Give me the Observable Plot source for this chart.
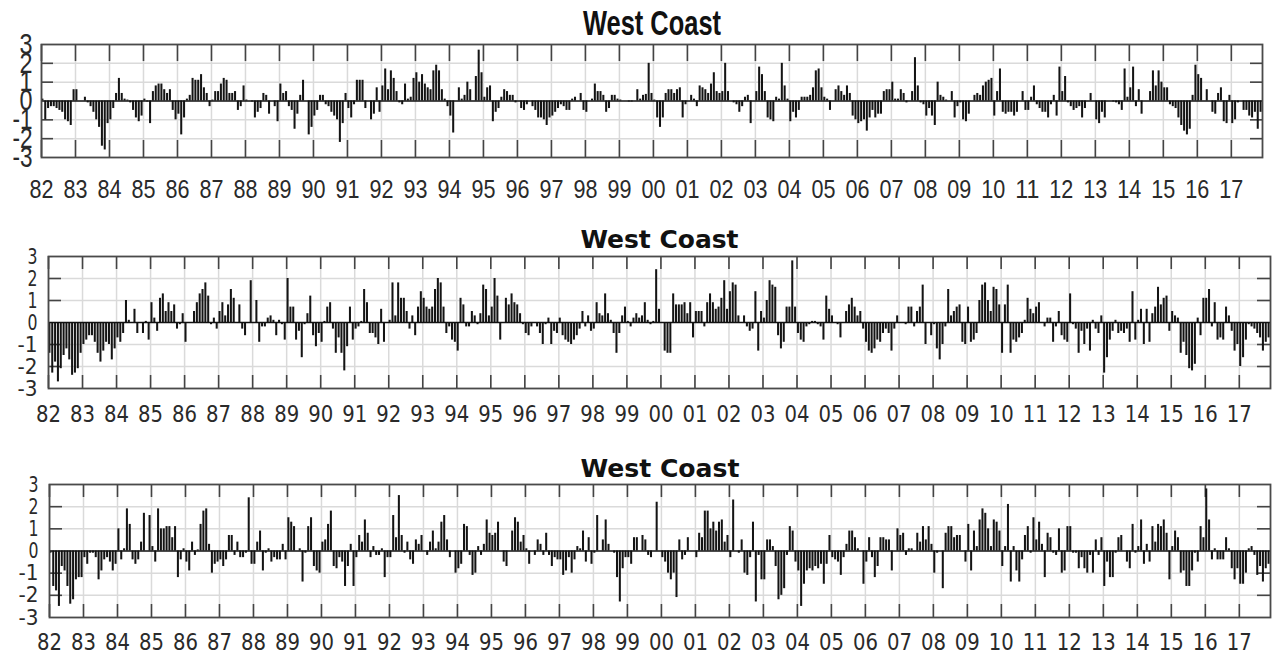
<!DOCTYPE html>
<html>
<head>
<meta charset="utf-8">
<script src="https://cdn.jsdelivr.net/npm/d3@7"></script>
<script src="https://cdn.jsdelivr.net/npm/@observablehq/plot@0.6"></script>
<style>
  html, body { margin: 0; padding: 0; background: #fff; }
  #wrap { position: relative; width: 1275px; height: 657px; overflow: hidden; background: #fff; }
  #wrap svg { position: absolute; left: 0; }
</style>
</head>
<body>
<div id="wrap"></div>
<script>
// ---------------- data ----------------
const startYear = 1982;
const yearLabels = ["82","83","84","85","86","87","88","89","90","91","92","93","94","95","96","97","98","99",
  "00","01","02","03","04","05","06","07","08","09","10","11","12","13","14","15","16","17"];
const yTickValues = [-3, -2, -1, 0, 1, 2, 3];
const yTickLabels = ["-3", "-2", "-1", "0", "1", "2", "3"];
const panelTitles = ["West Coast", "West Coast", "West Coast"];

// monthly values, Jan 1982 .. Nov 2017 (one row per year)
const westCoastTop = [
  0.1,-1.0,-0.4,-0.3,-0.3,-0.4,-0.5,-0.6,-1.0,-1.1,-1.3,0.6,
  0.6,0.0,0.0,0.2,-0.1,-0.3,-0.6,-1.0,-1.4,-2.4,-2.6,-1.2,
  -1.0,-0.4,0.4,1.2,0.4,0.1,0.05,-0.1,-0.5,-0.9,-1.1,-0.8,
  0.1,-0.05,-1.2,0.5,0.8,0.9,0.9,0.6,0.4,0.6,-0.5,-1.0,
  -0.7,-1.8,-0.9,0.1,0.3,1.2,1.1,1.1,1.4,0.7,0.4,-0.3,
  0.05,0.5,0.5,0.9,1.2,1.1,0.4,0.4,0.5,-0.5,-0.3,0.8,
  0.05,0.0,-0.05,-0.9,-0.6,-0.4,0.4,0.3,-0.7,0.0,-0.3,-1.1,
  0.9,0.4,0.5,-0.3,-0.5,-1.5,-0.7,0.3,1.1,0.0,-1.8,-1.4,
  -0.8,-0.5,0.3,0.3,-0.2,-0.3,-0.6,-0.8,-1.0,-2.2,-1.2,0.4,
  -0.4,-0.9,-0.2,1.1,1.1,1.1,-0.4,0.0,-1.0,-0.7,0.7,-0.6,
  0.8,1.7,0.6,1.6,1.2,0.5,-0.1,-0.2,0.9,0.1,0.2,1.2,
  1.5,1.0,1.4,0.9,0.7,0.6,1.6,1.9,1.6,0.6,0.1,-0.3,
  -0.8,-1.7,0.0,0.7,0.1,0.3,1.0,0.6,0.0,1.3,2.7,1.5,
  0.2,0.7,0.8,-1.1,-0.6,-0.4,0.2,0.6,0.5,0.3,0.3,-0.1,
  0.0,-0.4,-0.5,-0.2,0.0,-0.3,-0.5,-0.9,-0.9,-1.0,-1.3,-0.9,
  -0.8,-0.6,-0.4,-0.2,-0.3,-0.5,-0.5,0.1,0.2,0.0,0.4,-0.5,
  -0.6,0.0,0.1,0.9,0.5,0.5,0.3,-0.6,-0.4,0.3,0.3,0.1,
  0.05,0.0,0.0,-0.05,-0.05,0.0,0.6,0.1,0.3,0.35,2.0,0.4,
  0.05,-0.9,-1.4,-0.9,0.4,0.6,0.6,0.4,0.6,0.7,-0.9,-0.2,
  0.0,0.3,0.1,-0.3,0.8,0.7,0.6,0.4,0.9,1.5,0.5,0.4,
  0.5,2.0,0.5,0.0,-0.1,-0.2,-0.6,-0.3,0.2,0.3,-1.2,0.0,
  0.5,1.8,1.4,0.5,-0.9,-1.0,-1.1,0.2,0.1,2.0,0.8,0.1,
  -1.1,-0.6,-0.9,-0.5,0.2,0.2,0.2,0.3,0.7,1.6,1.7,0.7,
  0.2,0.1,-0.5,0.0,0.6,0.8,0.5,0.3,0.8,0.4,-0.8,-1.0,
  -1.2,-1.1,-1.0,-1.6,-0.9,-0.5,-0.9,-0.7,-0.7,0.5,0.6,0.6,
  1.0,0.1,0.1,0.6,0.4,-0.1,0.0,0.5,2.3,0.8,-0.1,-0.2,
  -0.8,-0.4,-0.8,-1.3,1.0,0.3,0.2,0.05,0.0,0.5,-0.9,-0.3,
  -0.1,-1.0,-1.1,-0.7,0.0,0.3,0.4,0.3,0.8,1.0,1.1,1.2,
  -0.8,0.5,1.7,-0.6,-0.7,-0.6,-0.6,-0.8,-0.6,0.0,0.5,-0.5,
  -0.5,0.2,0.8,-0.2,-0.4,-0.6,-0.6,-0.9,-0.2,0.3,-0.8,1.8,
  0.5,1.3,-0.1,-0.3,-0.5,-0.4,-0.3,-0.9,-0.4,0.0,0.4,0.0,
  -1.0,-1.2,-0.6,-0.9,0.0,0.0,-0.05,-0.1,-0.2,-0.5,1.7,0.2,
  0.7,1.8,-0.3,0.6,-0.7,0.0,0.0,0.5,1.6,0.8,1.6,1.0,
  0.7,0.7,-0.2,-0.3,-0.4,-0.9,-1.3,-1.6,-1.8,-1.5,0.3,1.9,
  1.4,1.2,0.0,0.6,0.0,-0.6,-0.7,0.4,0.7,-1.1,-1.2,0.3,
  -1.2,-1.0,-0.1,0.0,-0.5,-0.5,-0.8,-0.9,-0.6,-1.5,-0.6
];

const westCoastMiddle = [
  -1.4,-2.3,-1.8,-2.7,-2.1,-1.5,-1.2,-1.7,-2.4,-2.3,-2.1,-1.4,
  -1.0,-0.8,-0.6,-0.6,-0.9,-1.4,-1.8,-1.3,-0.9,-1.0,-1.7,-1.2,
  -0.7,-0.9,-0.5,1.0,0.1,0.0,0.6,-0.5,0.0,-0.5,0.05,-0.8,
  0.9,0.2,-0.4,1.1,1.3,0.5,0.9,0.5,0.8,-0.3,-0.1,0.4,
  -0.9,0.0,0.0,0.5,0.9,1.3,1.5,1.8,1.2,-0.1,0.2,-0.3,
  0.5,0.9,0.3,0.8,1.5,1.1,0.0,0.8,-0.3,-0.6,0.0,1.9,
  0.0,1.0,-0.9,-0.2,-0.2,0.2,0.3,0.1,-0.6,0.1,-0.1,-0.8,
  2.0,0.7,0.7,-0.8,-0.4,-1.6,-0.1,0.4,1.2,-0.6,-1.1,-0.5,
  -0.9,0.05,0.7,0.9,-0.3,-1.4,-0.7,-1.4,-2.2,-1.1,0.7,-0.8,
  -0.3,-0.2,0.05,1.5,0.9,-0.5,-0.5,-0.7,-1.0,0.6,-0.9,0.0,
  0.1,1.8,0.3,1.8,1.1,1.1,0.5,-0.3,0.3,-0.6,0.7,1.4,
  1.1,0.7,0.6,0.7,1.5,2.0,1.8,0.7,-0.5,-0.2,-0.8,-0.9,
  -1.3,1.1,0.8,-0.2,-0.2,0.5,0.3,-0.1,0.4,1.7,1.5,0.3,
  0.7,2.0,1.2,-0.8,0.0,1.1,0.8,1.3,0.9,0.8,0.4,-0.1,
  -0.5,-0.6,-0.2,0.0,-0.2,-0.5,-1.0,-0.1,0.2,-1.0,-0.4,-0.5,
  0.2,-0.6,-0.8,-0.9,-1.0,-0.8,-0.6,-0.3,0.5,-0.2,0.3,-0.4,
  -0.3,0.9,0.4,0.3,1.3,0.4,0.1,-0.5,-1.4,-0.5,0.3,0.7,
  0.05,-0.2,0.2,0.4,0.2,0.3,0.9,0.1,-0.1,0.05,2.4,0.6,
  0.0,-1.3,-1.4,-1.4,1.3,0.8,0.8,0.8,0.9,0.4,0.9,-0.7,
  0.5,0.5,0.5,-0.2,0.9,1.3,0.9,0.6,0.7,1.1,1.9,0.6,
  1.4,1.8,1.7,0.3,0.0,0.3,-0.2,-0.4,-0.3,1.4,-1.3,0.5,
  0.2,1.0,1.9,1.7,1.6,-0.6,-1.2,-0.9,0.7,0.7,2.8,0.7,
  -0.5,-0.8,-0.9,-0.2,-0.1,0.05,0.05,-0.1,-0.2,-0.8,1.2,0.6,
  0.3,0.0,-0.1,-0.7,0.0,0.5,0.8,1.1,0.7,0.3,0.5,-0.3,
  -0.9,-1.3,-1.4,-1.2,-0.8,-0.9,-0.5,-0.3,-0.5,-1.3,-0.3,0.3,
  0.0,0.0,-0.1,0.7,0.7,-0.2,0.5,0.7,1.7,-1.0,0.0,-0.6,
  -0.1,-1.2,-1.7,-1.0,-0.2,1.5,0.3,0.5,0.7,0.8,-0.9,-1.0,
  0.7,-0.9,-0.8,-0.5,1.0,1.7,1.8,1.0,0.5,1.6,1.5,0.8,
  -1.4,0.8,1.7,-1.4,-0.8,-0.9,-0.7,-0.5,0.1,1.1,0.6,0.4,
  0.7,0.9,0.0,-0.2,0.2,0.2,-0.9,-0.2,0.5,-0.6,-0.8,-0.9,
  1.3,-0.1,-0.3,-1.4,-0.4,-1.0,-0.3,-1.3,0.1,-0.3,-0.5,0.3,
  -2.3,-1.6,-0.8,-0.4,0.1,-0.5,-0.4,-0.5,-0.3,-0.9,1.4,-0.8,
  0.1,0.6,-1.0,0.6,-0.9,0.4,0.7,1.6,0.8,1.1,1.2,-0.4,
  0.5,0.3,0.2,-1.4,-0.9,-1.5,-2.1,-2.2,-1.9,0.2,-0.6,1.1,
  1.1,1.5,-0.2,0.9,-0.8,-0.7,-0.8,0.7,0.3,-0.4,-1.3,-1.0,
  -2.0,-1.6,-0.8,-0.1,-0.2,-0.3,-0.5,-0.7,-1.3,-0.9,-0.7
];

const westCoastBottom = [
  -0.1,-1.6,-1.8,-2.5,-0.7,-0.9,-1.6,-2.4,-2.2,-1.3,-1.2,-1.2,
  -0.3,-0.6,-0.1,-0.1,-0.3,-1.3,-0.9,-0.4,-0.3,-0.5,-0.9,-0.6,
  1.0,-0.4,0.1,1.9,1.2,-0.4,-0.6,-0.4,0.4,1.7,0.0,1.6,
  0.2,-0.5,1.9,1.0,1.0,1.1,1.1,0.6,1.1,-1.2,-0.4,0.1,
  -0.5,-0.9,0.4,-0.2,0.05,1.2,1.8,1.9,0.3,-1.0,-0.6,-0.5,
  -0.4,-0.7,-0.4,0.7,0.7,-0.2,0.4,-0.3,-0.3,-0.1,2.4,-0.6,
  -0.6,0.4,0.9,-0.9,-0.1,0.1,-0.5,-0.3,-0.4,-0.4,0.3,-0.4,
  1.5,1.3,1.1,0.0,0.1,-1.4,-0.1,1.1,1.5,-0.7,-0.9,-1.0,
  0.4,0.5,1.2,1.8,-0.7,-0.8,-0.3,-0.5,-1.6,-0.7,0.3,-1.6,
  -0.3,0.7,0.4,1.4,0.8,-0.3,0.2,-0.2,-0.2,0.1,-1.2,-0.3,
  -0.3,1.6,0.6,2.5,0.7,-0.1,0.4,-0.4,-0.6,0.5,0.3,0.7,
  0.0,-0.2,0.4,0.9,0.1,0.4,1.3,1.6,0.5,-0.3,0.0,-1.0,
  -0.8,-0.6,1.2,1.1,-0.2,-1.1,-1.0,0.2,-0.2,0.3,1.4,0.8,
  0.7,0.8,1.3,0.0,-0.5,-0.7,0.0,0.9,1.5,1.3,0.4,0.7,
  0.1,-0.6,0.0,-0.2,0.5,0.3,-0.2,0.8,-0.2,-0.7,-0.3,-0.4,
  -0.4,-1.1,-0.9,-0.3,-1.0,-0.4,0.2,0.1,0.9,-0.5,0.6,-0.6,
  -0.1,1.6,0.0,0.5,1.4,0.3,0.0,-0.1,-1.2,-2.3,-0.8,-0.3,
  -0.3,-0.6,0.6,0.6,0.0,0.7,0.5,-0.2,-0.3,0.0,2.2,0.0,
  -0.3,-0.5,-1.0,-1.3,-1.0,-2.1,0.5,-0.4,-0.2,0.6,0.0,0.0,
  -0.3,0.8,0.6,1.8,1.8,1.0,1.3,0.9,1.3,1.4,0.4,0.7,
  -0.3,2.3,0.0,-0.1,0.5,-1.0,-1.1,-0.3,1.3,-2.3,-0.2,-1.3,
  -1.3,0.5,0.5,0.2,-0.7,-2.2,-2.0,-1.7,-0.2,1.1,0.9,-0.5,
  -0.9,-2.5,-1.5,-0.9,-0.8,-0.9,-0.7,-0.8,-0.6,-1.5,-0.6,0.7,
  -0.3,-0.4,-0.5,-1.1,-0.3,0.3,0.9,0.9,0.6,0.1,0.0,-1.5,
  -0.5,0.6,-0.3,-1.2,-0.7,0.6,0.6,0.5,0.5,-0.9,0.0,1.0,
  0.7,0.8,-0.2,0.1,0.1,0.0,0.8,0.4,1.1,0.5,1.1,0.3,
  -1.0,-0.1,0.0,-1.7,0.8,1.1,1.1,0.6,0.7,0.7,0.0,-0.5,
  1.2,-0.9,0.9,0.2,1.4,1.9,1.7,1.0,0.2,1.4,1.3,0.9,
  -0.7,0.2,2.1,-1.4,0.2,-0.9,-1.4,-0.4,0.7,1.1,-0.1,1.5,
  0.5,1.3,0.3,-1.2,0.8,0.6,-0.1,-0.2,1.0,-1.0,-0.9,1.1,
  1.1,-0.1,-0.1,-0.8,-0.3,-0.8,-1.0,-0.2,-1.0,0.5,-0.2,0.6,
  -1.6,-0.5,-1.2,-1.2,-0.1,0.6,0.7,0.0,-0.5,-0.8,1.2,-0.1,
  0.2,1.4,-0.6,0.3,-0.5,1.1,0.4,1.2,1.1,1.4,0.8,-1.3,
  0.2,0.9,0.6,-1.0,-0.9,-1.6,-1.6,-0.9,-0.1,-0.5,1.1,0.6,
  2.8,1.4,-0.4,0.1,-0.4,-0.4,-0.4,0.6,0.1,-0.8,-1.3,-0.8,
  -1.5,-1.5,-1.0,0.1,0.2,-0.2,-1.1,-0.7,-1.4,-0.8,-0.6
];

// ---------------- layout / style per panel ----------------
const narrow = '"Liberation Sans Narrow","Arial Narrow","Liberation Sans",Arial,sans-serif';
const dejavu = '"DejaVu Sans Condensed","DejaVu Sans",sans-serif';

const panels = [
  { values: westCoastTop, title: panelTitles[0], top: 0, height: 215,
    mt: 44, mb: 58, ml: 41, mr: 13, font: narrow,
    titleSize: 35, titleDy: -10, titleLen: 138,
    xSize: 25, xPad: 23, xLen: 24, ySize: 29, yPad: 9, yLen1: 13, yLen2: 20,
    tickLen: 17, yTickLen: 12 },
  { values: westCoastMiddle, title: panelTitles[1], top: 215, height: 222,
    mt: 41, mb: 49, ml: 48, mr: 5, font: dejavu,
    titleSize: 25, titleDy: -9, titleLen: 158,
    xSize: 23, xPad: 17, xLen: 25, ySize: 22, yPad: 11, yLen1: 10, yLen2: 20,
    tickLen: 13, yTickLen: 13 },
  { values: westCoastBottom, title: panelTitles[2], top: 437, height: 220,
    mt: 47, mb: 40, ml: 49, mr: 5, font: dejavu,
    titleSize: 25, titleDy: -8, titleLen: 159,
    xSize: 23, xPad: 16, xLen: 25, ySize: 22, yPad: 11, yLen1: 10, yLen2: 20,
    tickLen: 13, yTickLen: 13 }
];

const yearTicks = yearLabels.map((_, i) => startYear + i);
const innerYTicks = yTickValues.filter((v) => v !== 0 && Math.abs(v) !== 3);
const wrap = document.getElementById("wrap");

function squeezeGroup(g, widthFor) {
  if (!g) return;
  g.querySelectorAll("text").forEach((t) => {
    const w = widthFor(t.textContent);
    if (w) {
      t.setAttribute("textLength", w);
      t.setAttribute("lengthAdjust", "spacingAndGlyphs");
    }
  });
}

for (const p of panels) {
  const n = p.values.length;
  const data = p.values.map((v, i) => ({ t0: startYear + i / 12, t1: startYear + (i + 1) / 12, v }));
  const xDomain = [startYear, startYear + n / 12];
  const yDomain = [yTickValues[0], yTickValues[yTickValues.length - 1]];
  const innerH = p.height - p.mt - p.mb;
  const innerW = 1275 - p.ml - p.mr;
  const pxPerUnit = innerH / (yDomain[1] - yDomain[0]);
  const pxPerYear = innerW / (xDomain[1] - xDomain[0]);
  const tl = p.tickLen / pxPerUnit;
  const ytl = p.yTickLen / pxPerYear;

  const svg = Plot.plot({
    width: 1275,
    height: p.height,
    marginTop: p.mt, marginBottom: p.mb, marginLeft: p.ml, marginRight: p.mr,
    style: { background: "transparent", fontFamily: p.font, color: "#222", overflow: "visible" },
    x: { type: "linear", domain: xDomain, axis: null },
    y: { type: "linear", domain: yDomain, axis: null },
    marks: [
      // light grid
      Plot.ruleX(yearTicks, { x: (d) => d, stroke: "#dadada", strokeWidth: 1.5 }),
      Plot.ruleY(innerYTicks, { y: (d) => d, stroke: "#dadada", strokeWidth: 1.5 }),
      // inner year ticks top & bottom
      Plot.ruleX(yearTicks, { x: (d) => d, y1: yDomain[1], y2: yDomain[1] - tl, stroke: "#444", strokeWidth: 1.6 }),
      Plot.ruleX(yearTicks, { x: (d) => d, y1: yDomain[0], y2: yDomain[0] + tl, stroke: "#444", strokeWidth: 1.6 }),
      // inner y ticks left & right
      Plot.ruleY(innerYTicks, { y: (d) => d, x1: xDomain[0], x2: xDomain[0] + ytl, stroke: "#444", strokeWidth: 1.6 }),
      Plot.ruleY(innerYTicks, { y: (d) => d, x1: xDomain[1] - ytl, x2: xDomain[1], stroke: "#444", strokeWidth: 1.6 }),
      // bars
      Plot.rect(data, { x1: "t0", x2: "t1", y1: 0, y2: "v", fill: "#141414", insetLeft: 0.4, insetRight: 0.4 }),
      Plot.ruleY([0], { stroke: "#111", strokeWidth: 1.6 }),
      Plot.frame({ stroke: "#4a4a4a", strokeWidth: 1.8 }),
      // tick labels (text mark #0)
      Plot.text(yearTicks, {
        x: (d) => d, text: (d, i) => yearLabels[i], frameAnchor: "bottom", lineAnchor: "top",
        dy: p.xPad, fontSize: p.xSize, fill: "#2a2a2a", textAnchor: "middle"
      }),
      // text mark #1
      Plot.text(yTickValues, {
        y: (d) => d, text: (d, i) => yTickLabels[i], frameAnchor: "left", textAnchor: "end",
        dx: -p.yPad, fontSize: p.ySize, fill: "#2a2a2a"
      }),
      // title (text mark #2)
      Plot.text([p.title], {
        text: (d) => d, frameAnchor: "top", lineAnchor: "bottom", dy: p.titleDy,
        fontSize: p.titleSize, fontWeight: "bold", fill: "#111"
      })
    ]
  });
  svg.style.top = p.top + "px";
  const groups = svg.querySelectorAll('g[aria-label="text"]');
  squeezeGroup(groups[0], () => p.xLen);
  squeezeGroup(groups[1], (s) => (s.length > 1 ? p.yLen2 : p.yLen1));
  squeezeGroup(groups[2], () => p.titleLen);
  wrap.appendChild(svg);
}
</script>
</body>
</html>
